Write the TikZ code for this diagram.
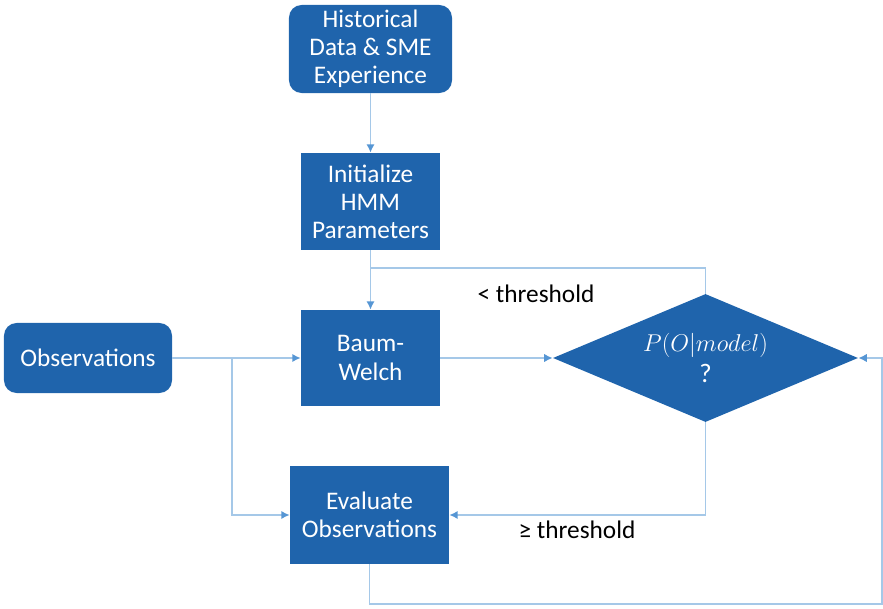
\documentclass[tikz,border=0pt]{standalone}
\usepackage{fontspec}
\setmainfont{Carlito}
\usetikzlibrary{shapes.geometric,arrows.meta}
\definecolor{boxblue}{RGB}{31,100,172}
\definecolor{linkblue}{RGB}{165,200,232}
\definecolor{tipblue}{RGB}{86,150,212}

\begin{document}
\begin{tikzpicture}[x=0.025cm,y=-0.025cm,
	>={Latex[length=6pt,width=6pt,color=tipblue]},
	block/.style={fill=boxblue,text=white,align=center,inner sep=0pt,
		font=\fontsize{18}{20}\selectfont},
	rblock/.style={block,rounded corners=9pt},
	link/.style={draw=linkblue,line width=1.2pt},
	cond/.style={font=\fontsize{18}{20}\selectfont}]
	\useasboundingbox (0,0) rectangle (883,609);
	
	\node[rblock,minimum width=4.075cm,minimum height=2.2cm] (hist) at (370.5,49) {Historical\\Data \& SME\\Experience};
	\node[block,minimum width=3.475cm,minimum height=2.425cm] (init) at (370.5,201.5) {Initialize\\HMM\\Parameters};
	\node[block,minimum width=3.475cm,minimum height=2.4cm] (baum) at (370.5,358) {Baum-\\Welch};
	\node[rblock,minimum width=4.2cm,minimum height=1.75cm] (obs) at (88,358) {Observations};
	\node[block,minimum width=3.975cm,minimum height=2.45cm] (eval) at (369.5,515) {Evaluate\\Observations};
	\node[block,diamond,shape aspect=2.4,minimum width=7.625cm,minimum height=3.2cm,
		font=\fontsize{19}{21}\selectfont] (prob) at (705.5,358) {$P(O|model)$\\[1pt]?};
	
	%\coordinate (loop) at (706,268);
	\coordinate (back) at (370.5,268);
	\coordinate (split) at (232,358);
	\coordinate (corner) at (882,604);
	
	\draw[link,->] (hist) -- (init);
	\draw[link,->] (init) -- (baum);
	\draw[link] (prob.north) |- (back);
	\draw[link,->] (obs) -- (baum);
	\draw[link,->] (split) |- (eval.west);
	\draw[link,->] (baum) -- (prob.west);
	\draw[link,->] (prob.south) |- (eval.east);
	\draw[link,->] (eval.south) |- (corner) |- (prob.east);
	
	\node[cond] (lower) at (536,294) {< threshold};
	\node[cond] (upper) at (577,530) {≥ threshold};
\end{tikzpicture}
\end{document}
